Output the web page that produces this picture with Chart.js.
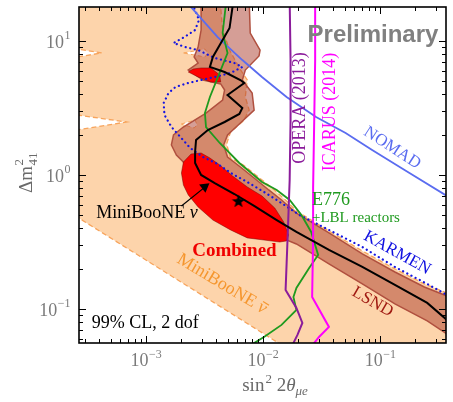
<!DOCTYPE html>
<html>
<head>
<meta charset="utf-8">
<script src="https://cdn.jsdelivr.net/npm/chart.js@4.4.0/dist/chart.umd.min.js"></script>
<style>
html, body { margin: 0; padding: 0; background: #fff; }
</style>
</head>
<body>
<canvas id="chart" width="453" height="402"></canvas>
<script>
// contours, [sin^2 2theta, dm^2] pairs
const nomad = [[2.17e-3,20.2],[2.43e-3,17.9],[4.1e-3,10.7],[6.66e-3,7.21],[9.8e-3,5.39],[1.59e-2,3.82],[2.84e-2,2.71],[5.08e-2,2.06],[8.56e-2,1.537],[0.162,1.09],[0.373,0.697]];
const opera = [[1.69e-2,20.2],[1.72e-2,7.21],[1.72e-2,2.57],[1.69e-2,0.918],[1.62e-2,0.327],[1.56e-2,0.1386],[1.93e-2,0.1017],[2.17e-2,0.0786],[1.97e-2,0.064],[1.82e-2,0.0557],[1.75e-2,0.0494]];
const icarus = [[2.79e-2,20.2],[2.79e-2,7.21],[2.74e-2,2.57],[2.68e-2,0.80],[2.68e-2,0.327],[2.63e-2,0.1229],[3.66e-2,0.0734],[3.01e-2,0.0618],[2.74e-2,0.0557],[2.63e-2,0.0494]];
const e776 = [[4.89e-3,20.2],[4.79e-3,17.9],[4.52e-3,11.47],[4.98e-3,8.14],[4.35e-3,6.07],[3.52e-3,3.82],[3.19e-3,2.90],[3.26e-3,2.28],[4.27e-3,1.733],[6.28e-3,1.229],[9.81e-3,0.887],[1.31e-2,0.773],[1.69e-2,0.651],[2.13e-2,0.503],[2.58e-2,0.3755],[2.96e-2,0.253],[2.48e-2,0.202],[1.93e-2,0.1434],[1.82e-2,0.1229],[1.93e-2,0.0983],[1.44e-2,0.0760],[1.02e-2,0.0618],[8.4e-3,0.0557],[7.34e-3,0.0512]];
const karmen = [[2.39e-3,20.2],[2.63e-3,17.03],[2.84e-3,14.34],[2.63e-3,12.08],[2.13e-3,10.71],[1.72e-3,9.66],[2.17e-3,9.01],[2.79e-3,8.56],[3.87e-3,7.47],[5.70e-3,6.85],[6.66e-3,6.40],[5.28e-3,5.77],[3.87e-3,5.39],[2.96e-3,5.115],[2.30e-3,4.86],[1.79e-3,4.54],[1.56e-3,4.09],[1.417e-3,3.445],[1.44e-3,2.804],[1.654e-3,2.28],[1.97e-3,1.92],[2.39e-3,1.59],[3.07e-3,1.362],[4.10e-3,1.208],[5.49e-3,1.017],[7.34e-3,0.887],[1.02e-2,0.747],[1.31e-2,0.651],[2.05e-2,0.503],[3.66e-2,0.389],[7.06e-2,0.290],[0.134,0.2058],[0.253,0.1537],[0.373,0.1272],[0.427,0.1188]];
const mbNu = [[5.6e-3,20.2],[5.49e-3,17.9],[5.18e-3,12.5],[4.27e-3,9.33],[3.73e-3,7.60],[3.52e-3,6.40],[4.70e-3,5.87],[6.41e-3,5.115],[6.92e-3,4.86],[4.98e-3,3.953],[6.66e-3,3.162],[6.28e-3,2.852],[4.70e-3,2.486],[3.38e-3,2.167],[2.68e-3,1.825],[2.63e-3,1.484],[2.63e-3,1.229],[2.96e-3,1.0],[3.87e-3,0.871],[5.70e-3,0.721],[8.40e-3,0.587],[1.31e-2,0.461],[1.93e-2,0.3755],[3.66e-2,0.2756],[7.06e-2,0.2058],[0.134,0.151],[0.253,0.1109],[0.373,0.0828],[0.427,0.0773]];
const bestFit = [[6.17e-3,0.640]];

// closed regions
const lsnd = [[7.62e-3,20.2],[7.78e-3,11.47],[9.44e-3,8.56],[9.25e-3,7.73],[7.06e-3,6.07],[6.66e-3,5.115],[8.08e-3,4.09],[8.40e-3,3.05],[6.41e-3,2.444],[4.98e-3,1.989],[4.61e-3,1.675],[4.98e-3,1.362],[6.41e-3,1.147],[8.40e-3,0.950],[1.12e-2,0.773],[1.44e-2,0.651],[1.93e-2,0.520],[3.66e-2,0.369],[7.06e-2,0.2573],[0.134,0.1888],[0.239,0.1459],[0.373,0.125],[0.470,0.1167],
  [0.470,0.0567],[0.373,0.0651],[0.253,0.0814],[0.134,0.109],[7.06e-2,0.1537],[3.66e-2,0.2167],[1.93e-2,0.3055],[1.44e-2,0.339],[7.34e-3,0.503],[4.10e-3,0.709],[2.53e-3,0.950],
  [2.086e-3,1.25],[1.82e-3,1.41],[1.65e-3,1.675],[1.72e-3,1.989],[2.086e-3,2.28],[3.26e-3,2.90],[4.52e-3,3.628],[4.70e-3,4.307],[4.35e-3,4.78],[3.07e-3,5.115],[2.30e-3,6.07],[2.79e-3,6.85],[2.58e-3,7.60],[2.79e-3,9.01],[2.96e-3,12.08],[2.96e-3,20.2],[7.62e-3,20.2]];
const mbNuBar = [[2.58e-4,20.2],[4.27e-3,20.2],[4.35e-3,17.9],[4.52e-3,12.08],[5.18e-3,8.56],[6.28e-3,6.29],[7.34e-3,5.115],[7.06e-3,3.82],[7.62e-3,3.05],[6.79e-3,2.529],[5.28e-3,2.094],[4.89e-3,1.703],[5.28e-3,1.339],[6.79e-3,1.188],[8.91e-3,0.983],[1.19e-2,0.800],[1.59e-2,0.640],[1.93e-2,0.539],[3.66e-2,0.382],[7.06e-2,0.271],[0.134,0.1989],[0.239,0.1537],[0.373,0.1316],[0.470,0.125],
  [0.470,0.0494],[1.69e-2,0.0494],[2.58e-4,0.486],[2.58e-4,2.167],[6.79e-4,2.486],[2.58e-4,2.804],[2.58e-4,7.60],[4.19e-4,8.14],[2.58e-4,8.71],[2.58e-4,20.2]];
const gapA = [[2.09e-3,8.14],[3.19e-3,8.71],[3.38e-3,8.14],[3.19e-3,7.60],[2.09e-3,8.14]];
const gapB = [[2.006e-3,2.40],[2.63e-3,2.573],[2.735e-3,2.361],[2.58e-3,2.242],[2.006e-3,2.40]];
const combined = [[2.01e-3,1.035],[2.09e-3,1.25],[2.43e-3,1.434],[2.96e-3,1.459],[3.52e-3,1.339],[4.27e-3,1.188],[5.49e-3,0.983],[7.34e-3,0.814],[9.81e-3,0.697],[1.261e-2,0.567],[1.502e-2,0.446],[1.654e-2,0.357],[1.59e-2,0.322],[1.39e-2,0.316],[1.02e-2,0.327],[7.34e-3,0.339],[5.28e-3,0.389],[3.73e-3,0.461],[2.79e-3,0.577],[2.30e-3,0.709],[2.09e-3,0.842],[2.01e-3,1.035]];
const combinedIsland = [[2.30e-3,5.87],[2.53e-3,6.18],[2.96e-3,6.29],[3.585e-3,6.29],[4.27e-3,5.573],[4.35e-3,4.94],[3.585e-3,4.94],[2.79e-3,5.39],[2.30e-3,5.87]];

// arrow for the MiniBooNE nu label
const arrowLine = [[2.01e-3,0.587],[3.19e-3,0.812]];
const arrowHead = [[3.175e-3,0.815]];

// axes
const xDecades = [1e-4, 1e-3, 1e-2, 1e-1];
const yDecades = [1e-2, 1e-1, 1, 10];
const xTickLabels = [[1e-3,'\u22123'],[1e-2,'\u22122'],[1e-1,'\u22121']];
const yTickLabels = [[0.1,'\u22121'],[1,'0'],[10,'1']];

const serif = '"Liberation Serif", "DejaVu Serif", serif';

// text on the plot, at data positions
const notes = [
	{x: 8.7e-2, y: 11.28, size: 24, color: '#808080', angle: 0, align: 'center', runs: [{t: 'Preliminary', f: 'bold 24px "Liberation Sans", Arial, sans-serif'}]},
	{x: 2.05e-2, y: 3.16, size: 18, color: '#8b1c9b', angle: -90, align: 'center', runs: [{t: 'OPERA (2013)', f: '18px ' + serif}]},
	{x: 3.66e-2, y: 2.95, size: 18, color: '#ff00ff', angle: -90, align: 'center', runs: [{t: 'ICARUS (2014)', f: '18px ' + serif}]},
	{x: 0.1286, y: 1.618, size: 17, color: '#5a6cf0', angle: 33, align: 'center', runs: [{t: 'NOMAD', f: '17px ' + serif}]},
	{x: 0.1417, y: 0.2663, size: 17, color: '#1010e0', angle: 29, align: 'center', runs: [{t: 'KARMEN', f: '17px ' + serif}]},
	{x: 8.73e-2, y: 0.1147, size: 17, color: '#a01a12', angle: 30, align: 'center', runs: [{t: 'LSND', f: '17px ' + serif}]},
	{x: 4.52e-3, y: 0.1563, size: 18, color: '#f5962e', angle: 31, align: 'center', runs: [{t: 'MiniBooNE ', f: '18px ' + serif}, {t: '\u03bd', f: 'italic 18px ' + serif, bar: true}]},
	{x: 1.02e-3, y: 0.530, size: 18, color: '#000', angle: 0, align: 'center', runs: [{t: 'MiniBooNE ', f: '18px ' + serif}, {t: '\u03bd', f: 'italic 18px ' + serif}]},
	{x: 5.70e-3, y: 0.2756, size: 19, color: '#f00000', angle: 0, align: 'center', runs: [{t: 'Combined', f: 'bold 19px ' + serif}]},
	{x: 2.62e-2, y: 0.662, size: 18, color: '#1f9a1f', angle: 0, align: 'left', runs: [{t: 'E776', f: '18px ' + serif}]},
	{x: 2.62e-2, y: 0.486, size: 15, color: '#1f9a1f', angle: 0, align: 'left', runs: [{t: '+LBL reactors', f: '15px ' + serif}]},
	{x: 3.45e-4, y: 0.080, size: 18, color: '#000', angle: 0, align: 'left', runs: [{t: '99% CL, 2 dof', f: '18px ' + serif}]}
];

const toXY = pts => pts.map(p => ({x: p[0], y: p[1]}));

function curve(pts, color, width, order, extra) {
	return Object.assign({data: toXY(pts), borderColor: color, borderWidth: width, fill: false, pointRadius: 0, tension: 0, order: order}, extra || {});
}
function region(pts, fillColor, edge, width, order, extra) {
	return Object.assign({data: toXY(pts), backgroundColor: fillColor, borderColor: edge, borderWidth: width, fill: 'shape', pointRadius: 0, tension: 0, order: order}, extra || {});
}

// filled five-point star for the best fit
const starImg = document.createElement('canvas');
starImg.width = 16; starImg.height = 16;
(function () {
	const c = starImg.getContext('2d');
	c.beginPath();
	for (let i = 0; i < 10; i++) {
		const r = i % 2 ? 2.9 : 7.0;
		const a = -Math.PI / 2 + i * Math.PI / 5;
		c.lineTo(8 + r * Math.cos(a), 8.6 + r * Math.sin(a));
	}
	c.closePath();
	c.fillStyle = '#000';
	c.fill();
})();

function drawRuns(ctx, note) {
	let w = 0;
	note.runs.forEach(r => { ctx.font = r.f; r.w = ctx.measureText(r.t).width; w += r.w; });
	let cx = note.align === 'center' ? -w / 2 : 0;
	const base = 0.33 * note.size;
	note.runs.forEach(r => {
		ctx.font = r.f;
		ctx.fillText(r.t, cx, base + (r.dy || 0));
		if (r.bar) {
			ctx.beginPath();
			ctx.lineWidth = 1.2;
			ctx.strokeStyle = ctx.fillStyle;
			ctx.moveTo(cx + 1.5, base - 0.6 * note.size);
			ctx.lineTo(cx + r.w + 0.5, base - 0.6 * note.size);
			ctx.stroke();
		}
		cx += r.w;
	});
}

const notesPlugin = {
	id: 'notes',
	afterDatasetsDraw(chart) {
		const {ctx, scales: {x, y}} = chart;
		ctx.save();
		ctx.textBaseline = 'alphabetic';
		ctx.textAlign = 'left';
		notes.forEach(n => {
			ctx.save();
			ctx.translate(x.getPixelForValue(n.x), y.getPixelForValue(n.y));
			ctx.rotate(n.angle * Math.PI / 180);
			ctx.fillStyle = n.color;
			drawRuns(ctx, n);
			ctx.restore();
		});
		ctx.restore();
	}
};

// frame with inward ticks, tick labels and axis titles
const framePlugin = {
	id: 'frame',
	afterDraw(chart) {
		const {ctx, chartArea: a, scales: {x, y}} = chart;
		ctx.save();
		ctx.strokeStyle = '#000';
		ctx.lineWidth = 1;
		ctx.beginPath();
		xDecades.forEach(d => {
			for (let k = 1; k < 10; k++) {
				const px = Math.round(x.getPixelForValue(d * k)) + 0.5;
				if (px < a.left || px > a.right) continue;
				const len = k === 1 ? 7 : 4;
				ctx.moveTo(px, a.bottom); ctx.lineTo(px, a.bottom - len);
				ctx.moveTo(px, a.top); ctx.lineTo(px, a.top + len);
			}
		});
		yDecades.forEach(d => {
			for (let k = 1; k < 10; k++) {
				const py = Math.round(y.getPixelForValue(d * k)) + 0.5;
				if (py < a.top || py > a.bottom) continue;
				const len = k === 1 ? 7 : 4;
				ctx.moveTo(a.left, py); ctx.lineTo(a.left + len, py);
				ctx.moveTo(a.right, py); ctx.lineTo(a.right - len, py);
			}
		});
		ctx.stroke();
		ctx.lineWidth = 1.6;
		ctx.strokeRect(a.left, a.top, a.right - a.left, a.bottom - a.top);

		// tick labels
		ctx.fillStyle = '#7a7a7a';
		ctx.textBaseline = 'alphabetic';
		ctx.textAlign = 'left';
		const big = '18px ' + serif, small = '12px ' + serif;
		xTickLabels.forEach(([v, e]) => {
			ctx.font = big; const w1 = ctx.measureText('10').width;
			ctx.font = small; const w2 = ctx.measureText(e).width;
			const px = x.getPixelForValue(v) - (w1 + w2) / 2;
			ctx.font = big; ctx.fillText('10', px, a.bottom + 23);
			ctx.font = small; ctx.fillText(e, px + w1 + 0.5, a.bottom + 15);
		});
		yTickLabels.forEach(([v, e]) => {
			ctx.font = big; const w1 = ctx.measureText('10').width;
			ctx.font = small; const w2 = ctx.measureText(e).width;
			const py = y.getPixelForValue(v);
			const px = a.left - 9 - w1 - w2;
			ctx.font = big; ctx.fillText('10', px, py + 7);
			ctx.font = small; ctx.fillText(e, px + w1 + 0.5, py - 2);
		});

		// axis titles
		ctx.fillStyle = '#6a6a6a';
		const tx = (a.left + a.right) / 2 + 12;
		const tb = a.bottom + 48;
		ctx.font = '19px ' + serif; const ws = ctx.measureText('sin').width;
		ctx.font = '13px ' + serif; const w2 = ctx.measureText('2').width;
		ctx.font = '19px ' + serif; const w3 = ctx.measureText(' 2').width;
		ctx.font = 'italic 19px ' + serif; const w4 = ctx.measureText('\u03b8').width;
		ctx.font = 'italic 13px ' + serif; const w5 = ctx.measureText('\u03bce').width;
		let cx = tx - (ws + w2 + w3 + w4 + w5) / 2;
		ctx.font = '19px ' + serif; ctx.fillText('sin', cx, tb); cx += ws;
		ctx.font = '13px ' + serif; ctx.fillText('2', cx + 1, tb - 8); cx += w2 + 1;
		ctx.font = '19px ' + serif; ctx.fillText(' 2', cx, tb); cx += w3;
		ctx.font = 'italic 19px ' + serif; ctx.fillText('\u03b8', cx, tb); cx += w4;
		ctx.font = 'italic 13px ' + serif; ctx.fillText('\u03bce', cx, tb + 4);

		ctx.save();
		ctx.translate(32, (a.top + a.bottom) / 2 - 2);
		ctx.rotate(-Math.PI / 2);
		ctx.font = '19px ' + serif; const wd = ctx.measureText('\u0394m').width;
		ctx.font = '13px ' + serif; const wsub = ctx.measureText('41').width;
		let ry = -(wd + wsub) / 2;
		ctx.font = '19px ' + serif; ctx.fillText('\u0394m', ry, 0); ry += wd + 0.5;
		ctx.font = '13px ' + serif; ctx.fillText('2', ry, -9); ctx.fillText('41', ry, 5);
		ctx.restore();
		ctx.restore();
	}
};

new Chart(document.getElementById('chart'), {
	type: 'line',
	data: {
		datasets: [
			region(mbNuBar, '#fdd4ab', '#f7a45c', 1.3, 20, {borderDash: [5, 3]}),
			region(gapA, '#ffffff', '#f7a45c', 1, 19, {borderDash: [4, 3]}),
			region(gapB, '#ffffff', '#f7a45c', 1, 19, {borderDash: [4, 3]}),
			region(lsnd, 'rgba(172,62,46,0.5)', '#b0503f', 1.5, 18),
			region(combined, '#ff0000', 'rgba(110,0,0,0.6)', 0.8, 17),
			region(combinedIsland, '#ff0000', 'rgba(110,0,0,0.6)', 0.8, 17),
			curve(karmen, '#1515e0', 2.2, 16, {borderDash: [0.1, 4.6], borderCapStyle: 'round'}),
			curve(nomad, '#5a6cf0', 1.8, 15),
			curve(e776, '#1f9a1f', 1.8, 14),
			curve(opera, '#8b1c9b', 2, 13),
			curve(icarus, '#ff00ff', 2, 12),
			curve(mbNu, '#000000', 2, 11),
			curve(arrowLine, '#000000', 1.2, 10),
			{data: toXY(arrowHead), showLine: false, pointStyle: 'triangle', pointRadius: 6, pointRotation: 52.5, pointBackgroundColor: '#000', pointBorderColor: '#000', pointBorderWidth: 0, order: 9},
			{data: toXY(bestFit), showLine: false, pointStyle: starImg, pointRadius: 6, order: 8}
		]
	},
	options: {
		responsive: false,
		animation: false,
		devicePixelRatio: 1,
		layout: {padding: {left: 79, right: 1, top: 7, bottom: 59}},
		scales: {
			x: {type: 'logarithmic', min: 2.68e-4, max: 0.366, display: false},
			y: {type: 'logarithmic', min: 0.0557, max: 17.94, display: false}
		},
		plugins: {legend: {display: false}, tooltip: {enabled: false}}
	},
	plugins: [notesPlugin, framePlugin]
});
</script>
</body>
</html>
